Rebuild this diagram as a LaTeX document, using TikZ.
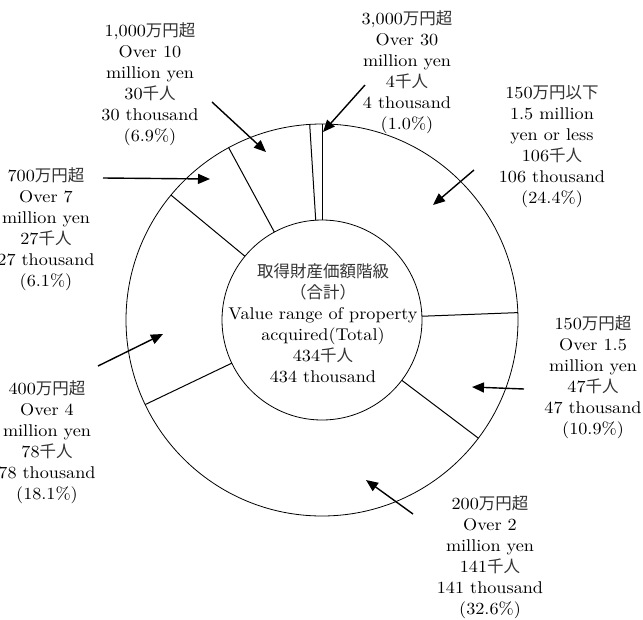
\documentclass[tikz,border=0pt]{standalone}
\usepackage{fontspec}
\newfontfamily\jpfont{Noto Sans CJK JP}
\newfontfamily\latfont[FakeStretch=1.07]{lmroman10-regular.otf}
\newcommand\ja[1]{{\jpfont\fontsize{16.5}{21}\selectfont\color{black!80}#1}}
\usetikzlibrary{arrows.meta}

\begin{document}
\begin{tikzpicture}[x=1pt, y=-1pt,
    lbl/.style={align=center, font=\latfont\fontsize{17}{21}\selectfont, inner sep=0pt},
    arr/.style={-{Triangle[length=12pt, width=10pt]}, line width=1.4pt}]
  \useasboundingbox (0,0) rectangle (643,619);
  \coordinate (c) at (322,320);
  \draw[line width=0.8pt] (c) circle [radius=196];
  \draw[line width=0.8pt] (c) circle [radius=100];
  %slice borders, clockwise from the top
  \foreach \a in {90, 2.16, -37.08, -154.44, 140.4, 118.44, 93.6}
    \draw[shift={(c)}, line width=1pt] (\a:100pt) -- (\a:196pt);

  \node[lbl] (total) at (323,323) {\ja{取得財産価額階級}\\\ja{（合計）}\\Value range of property\\acquired(Total)\\434\ja{千人}\\434 thousand};

  \node[lbl] (n3000) at (407,72.5) {3,000\ja{万円超}\\Over 30\\million yen\\4\ja{千人}\\4 thousand\\(1.0\%)};
  \node[lbl] (n150le) at (552,147) {150\ja{万円以下}\\1.5 million\\yen or less\\106\ja{千人}\\106 thousand\\(24.4\%)};
  \node[lbl] (n150) at (593,377.5) {150\ja{万円超}\\Over 1.5\\million yen\\47\ja{千人}\\47 thousand\\(10.9\%)};
  \node[lbl] (n200) at (490,557) {200\ja{万円超}\\Over 2\\million yen\\141\ja{千人}\\141 thousand\\(32.6\%)};
  \node[lbl] (n400) at (47,442) {400\ja{万円超}\\Over 4\\million yen\\78\ja{千人}\\78 thousand\\(18.1\%)};
  \node[lbl] (n700) at (46,229.5) {700\ja{万円超}\\Over 7\\million yen\\27\ja{千人}\\27 thousand\\(6.1\%)};
  \node[lbl] (n1000) at (150,84.5) {1,000\ja{万円超}\\Over 10\\million yen\\30\ja{千人}\\30 thousand\\(6.9\%)};

  %arrows from the labels into the ring
  \coordinate (t3000) at (365,85);   \coordinate (h3000) at (323,132);
  \coordinate (t150le) at (474,170); \coordinate (h150le) at (433,205);
  \coordinate (t150) at (524,389);   \coordinate (h150) at (472,387);
  \coordinate (t200) at (413,514);   \coordinate (h200) at (366,480);
  \coordinate (t400) at (98,366);    \coordinate (h400) at (163,334);
  \coordinate (t700) at (103,178);   \coordinate (h700) at (210,179);
  \coordinate (t1000) at (212,102);  \coordinate (h1000) at (266,152);
  \draw[arr] (t3000) -- (h3000);
  \draw[arr] (t150le) -- (h150le);
  \draw[arr] (t150) -- (h150);
  \draw[arr] (t200) -- (h200);
  \draw[arr] (t400) -- (h400);
  \draw[arr] (t700) -- (h700);
  \draw[arr] (t1000) -- (h1000);
\end{tikzpicture}
\end{document}
